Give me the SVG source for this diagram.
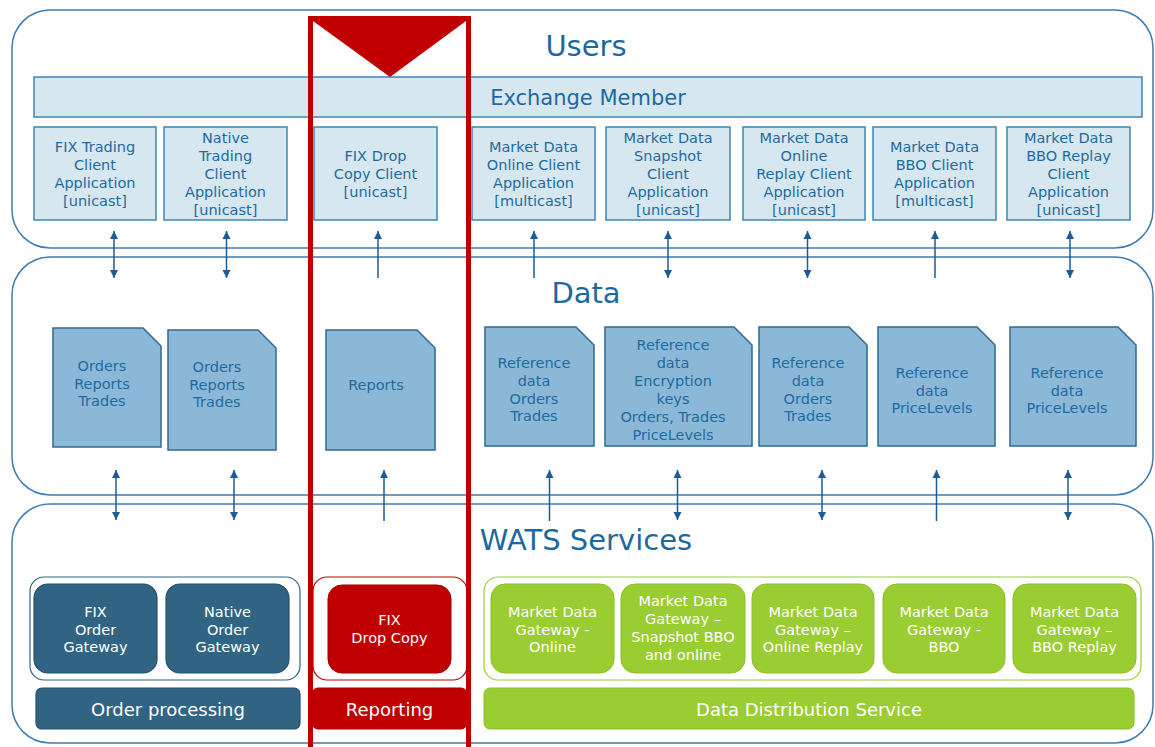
<svg xmlns="http://www.w3.org/2000/svg" width="1155" height="747" viewBox="0 0 1155 747">
<defs>
<style>
.panel{fill:#fff;stroke:#3f7bb3;stroke-width:1.5}
.title{font-family:"DejaVu Sans",Verdana,sans-serif;fill:#1c69a0;text-anchor:middle}
.client{fill:#d6e7f0;stroke:#3a87b8;stroke-width:1.5}
.t{font-family:"DejaVu Sans",Verdana,sans-serif;font-size:14.5px;fill:#1f6b9f;text-anchor:middle}
.tw{font-family:"DejaVu Sans",Verdana,sans-serif;font-size:14.5px;fill:#fff;text-anchor:middle}
.bar{font-family:"DejaVu Sans",Verdana,sans-serif;font-size:18px;fill:#fff;text-anchor:middle}
.doc{fill:#8bb8d6;stroke:#2f6a92;stroke-width:1.5}
.blue{fill:#306482;stroke:#22506d;stroke-width:1.2}
.red{fill:#c00000;stroke:#a00000;stroke-width:1}
.green{fill:#9acd32;stroke:#8cbf2a;stroke-width:1}
.conn line{stroke:#1b5c97;stroke-width:1.5}
</style>
<marker id="ah" viewBox="0 0 10 10" refX="10" refY="5" markerWidth="8" markerHeight="9" markerUnits="userSpaceOnUse" orient="auto-start-reverse">
<path d="M0,0 L10,5 L0,10 z" fill="#1b5c97"/>
</marker>
</defs>

<g id="panels">
<rect class="panel" x="12" y="10" width="1141" height="238" rx="38"/>
<rect class="panel" x="12" y="257" width="1141" height="238" rx="38"/>
<rect class="panel" x="12" y="504" width="1141" height="239" rx="38"/>
<text class="title" x="586" y="56" font-size="29">Users</text>
<text class="title" x="586" y="303" font-size="29">Data</text>
<text class="title" x="586" y="550" font-size="29">WATS Services</text>
</g>

<g id="exchange-member">
<rect class="client" x="34" y="77" width="1108" height="40"/>
<text class="title" x="588" y="105" font-size="21">Exchange Member</text>
</g>

<g id="client-fix-trading">
<rect class="client" x="34" y="127" width="122" height="93"/>
<text class="t"><tspan x="95" y="152">FIX Trading</tspan><tspan x="95" y="170">Client</tspan><tspan x="95" y="188">Application</tspan><tspan x="95" y="206">[unicast]</tspan></text>
</g>
<g id="client-native-trading">
<rect class="client" x="164" y="127" width="123" height="93"/>
<text class="t"><tspan x="225.5" y="143">Native</tspan><tspan x="225.5" y="161">Trading</tspan><tspan x="225.5" y="179">Client</tspan><tspan x="225.5" y="197">Application</tspan><tspan x="225.5" y="215">[unicast]</tspan></text>
</g>
<g id="client-fix-drop-copy">
<rect class="client" x="314" y="127" width="123" height="93"/>
<text class="t"><tspan x="375.5" y="161">FIX Drop</tspan><tspan x="375.5" y="179">Copy Client</tspan><tspan x="375.5" y="197">[unicast]</tspan></text>
</g>
<g id="client-md-online">
<rect class="client" x="472" y="127" width="123" height="93"/>
<text class="t"><tspan x="533.5" y="152">Market Data</tspan><tspan x="533.5" y="170">Online Client</tspan><tspan x="533.5" y="188">Application</tspan><tspan x="533.5" y="206">[multicast]</tspan></text>
</g>
<g id="client-md-snapshot">
<rect class="client" x="606" y="127" width="124" height="93"/>
<text class="t"><tspan x="668" y="143">Market Data</tspan><tspan x="668" y="161">Snapshot</tspan><tspan x="668" y="179">Client</tspan><tspan x="668" y="197">Application</tspan><tspan x="668" y="215">[unicast]</tspan></text>
</g>
<g id="client-md-online-replay">
<rect class="client" x="743" y="127" width="122" height="93"/>
<text class="t"><tspan x="804" y="143">Market Data</tspan><tspan x="804" y="161">Online</tspan><tspan x="804" y="179">Replay Client</tspan><tspan x="804" y="197">Application</tspan><tspan x="804" y="215">[unicast]</tspan></text>
</g>
<g id="client-md-bbo">
<rect class="client" x="873" y="127" width="123" height="93"/>
<text class="t"><tspan x="934.5" y="152">Market Data</tspan><tspan x="934.5" y="170">BBO Client</tspan><tspan x="934.5" y="188">Application</tspan><tspan x="934.5" y="206">[multicast]</tspan></text>
</g>
<g id="client-md-bbo-replay">
<rect class="client" x="1007" y="127" width="123" height="93"/>
<text class="t"><tspan x="1068.5" y="143">Market Data</tspan><tspan x="1068.5" y="161">BBO Replay</tspan><tspan x="1068.5" y="179">Client</tspan><tspan x="1068.5" y="197">Application</tspan><tspan x="1068.5" y="215">[unicast]</tspan></text>
</g>

<g id="data-1">
<path class="doc" d="M53,328 H143 L161,346 V447 H53 Z"/>
<text class="t"><tspan x="102" y="371">Orders</tspan><tspan x="102" y="388.5">Reports</tspan><tspan x="102" y="406">Trades</tspan></text>
</g>
<g id="data-2">
<path class="doc" d="M168,330 H258 L276,348 V450 H168 Z"/>
<text class="t"><tspan x="217" y="372">Orders</tspan><tspan x="217" y="389.5">Reports</tspan><tspan x="217" y="407">Trades</tspan></text>
</g>
<g id="data-3">
<path class="doc" d="M326,330 H417 L435,348 V450 H326 Z"/>
<text class="t" x="376" y="390">Reports</text>
</g>
<g id="data-4">
<path class="doc" d="M485,327 H576 L594,345 V446 H485 Z"/>
<text class="t"><tspan x="534" y="368">Reference</tspan><tspan x="534" y="386">data</tspan><tspan x="534" y="403.5">Orders</tspan><tspan x="534" y="421">Trades</tspan></text>
</g>
<g id="data-5">
<path class="doc" d="M605,327 H734 L752,345 V446 H605 Z"/>
<text class="t"><tspan x="673" y="350">Reference</tspan><tspan x="673" y="368">data</tspan><tspan x="673" y="386">Encryption</tspan><tspan x="673" y="404">keys</tspan><tspan x="673" y="422">Orders, Trades</tspan><tspan x="673" y="440">PriceLevels</tspan></text>
</g>
<g id="data-6">
<path class="doc" d="M759,327 H849 L867,345 V446 H759 Z"/>
<text class="t"><tspan x="808" y="368">Reference</tspan><tspan x="808" y="386">data</tspan><tspan x="808" y="403.5">Orders</tspan><tspan x="808" y="421">Trades</tspan></text>
</g>
<g id="data-7">
<path class="doc" d="M878,327 H977 L995,345 V446 H878 Z"/>
<text class="t"><tspan x="932" y="378">Reference</tspan><tspan x="932" y="395.5">data</tspan><tspan x="932" y="413">PriceLevels</tspan></text>
</g>
<g id="data-8">
<path class="doc" d="M1010,327 H1118 L1136,345 V446 H1010 Z"/>
<text class="t"><tspan x="1067" y="378">Reference</tspan><tspan x="1067" y="395.5">data</tspan><tspan x="1067" y="413">PriceLevels</tspan></text>
</g>

<g id="order-processing">
<rect x="30" y="577" width="270" height="103" rx="14" fill="#fff" stroke="#2f6383" stroke-width="1.2"/>
<g id="fix-order-gateway">
<rect class="blue" x="34" y="584" width="123" height="89" rx="14"/>
<text class="tw"><tspan x="95.5" y="617">FIX</tspan><tspan x="95.5" y="634.5">Order</tspan><tspan x="95.5" y="652">Gateway</tspan></text>
</g>
<g id="native-order-gateway">
<rect class="blue" x="166" y="584" width="123" height="89" rx="14"/>
<text class="tw"><tspan x="227.5" y="617">Native</tspan><tspan x="227.5" y="634.5">Order</tspan><tspan x="227.5" y="652">Gateway</tspan></text>
</g>
<rect class="blue" x="36" y="688" width="264" height="41" rx="6"/>
<text class="bar" x="168" y="716">Order processing</text>
</g>

<g id="reporting">
<rect x="313" y="577" width="154" height="103" rx="14" fill="#fff" stroke="#c00000" stroke-width="1.2"/>
<g id="fix-drop-copy">
<rect class="red" x="328" y="585" width="123" height="88" rx="14"/>
<text class="tw"><tspan x="389.5" y="625">FIX</tspan><tspan x="389.5" y="643">Drop Copy</tspan></text>
</g>
<rect class="red" x="312" y="688" width="155" height="41" rx="6"/>
<text class="bar" x="389.5" y="716">Reporting</text>
</g>

<g id="data-distribution">
<rect x="484" y="577" width="657" height="103" rx="14" fill="#fff" stroke="#9acd32" stroke-width="1.2"/>
<g id="md-gw-online">
<rect class="green" x="491" y="584" width="123" height="89" rx="14"/>
<text class="tw"><tspan x="552.5" y="617">Market Data</tspan><tspan x="552.5" y="634.5">Gateway -</tspan><tspan x="552.5" y="652">Online</tspan></text>
</g>
<g id="md-gw-snapshot">
<rect class="green" x="621" y="584" width="124" height="89" rx="14"/>
<text class="tw"><tspan x="683" y="606">Market Data</tspan><tspan x="683" y="624">Gateway –</tspan><tspan x="683" y="642">Snapshot BBO</tspan><tspan x="683" y="660">and online</tspan></text>
</g>
<g id="md-gw-online-replay">
<rect class="green" x="752" y="584" width="122" height="89" rx="14"/>
<text class="tw"><tspan x="813" y="617">Market Data</tspan><tspan x="813" y="634.5">Gateway –</tspan><tspan x="813" y="652">Online Replay</tspan></text>
</g>
<g id="md-gw-bbo">
<rect class="green" x="883" y="584" width="122" height="89" rx="14"/>
<text class="tw"><tspan x="944" y="617">Market Data</tspan><tspan x="944" y="634.5">Gateway -</tspan><tspan x="944" y="652">BBO</tspan></text>
</g>
<g id="md-gw-bbo-replay">
<rect class="green" x="1013" y="584" width="123" height="89" rx="14"/>
<text class="tw"><tspan x="1074.5" y="617">Market Data</tspan><tspan x="1074.5" y="634.5">Gateway –</tspan><tspan x="1074.5" y="652">BBO Replay</tspan></text>
</g>
<rect class="green" x="484" y="688" width="650" height="41" rx="6"/>
<text class="bar" x="809" y="716">Data Distribution Service</text>
</g>

<g id="connectors" class="conn">
<line x1="114" y1="278" x2="114" y2="231" marker-start="url(#ah)" marker-end="url(#ah)"/>
<line x1="226.5" y1="278" x2="226.5" y2="231" marker-start="url(#ah)" marker-end="url(#ah)"/>
<line x1="378" y1="278" x2="378" y2="231" marker-end="url(#ah)"/>
<line x1="534" y1="278" x2="534" y2="231" marker-end="url(#ah)"/>
<line x1="668" y1="278" x2="668" y2="231" marker-start="url(#ah)" marker-end="url(#ah)"/>
<line x1="807.5" y1="278" x2="807.5" y2="231" marker-start="url(#ah)" marker-end="url(#ah)"/>
<line x1="935" y1="278" x2="935" y2="231" marker-end="url(#ah)"/>
<line x1="1070" y1="278" x2="1070" y2="231" marker-start="url(#ah)" marker-end="url(#ah)"/>
<line x1="116" y1="520" x2="116" y2="470" marker-start="url(#ah)" marker-end="url(#ah)"/>
<line x1="234" y1="520" x2="234" y2="470" marker-start="url(#ah)" marker-end="url(#ah)"/>
<line x1="384" y1="521" x2="384" y2="470" marker-end="url(#ah)"/>
<line x1="549.5" y1="521" x2="549.5" y2="470" marker-end="url(#ah)"/>
<line x1="677.5" y1="520" x2="677.5" y2="470" marker-start="url(#ah)" marker-end="url(#ah)"/>
<line x1="822" y1="520" x2="822" y2="470" marker-start="url(#ah)" marker-end="url(#ah)"/>
<line x1="936.5" y1="521" x2="936.5" y2="470" marker-end="url(#ah)"/>
<line x1="1068" y1="520" x2="1068" y2="470" marker-start="url(#ah)" marker-end="url(#ah)"/>
</g>

<g id="highlight">
<rect x="310.5" y="18.5" width="158" height="740" fill="none" stroke="#c00000" stroke-width="5"/>
<polygon points="313,21 466,21 390,77" fill="#c00000"/>
</g>
</svg>
